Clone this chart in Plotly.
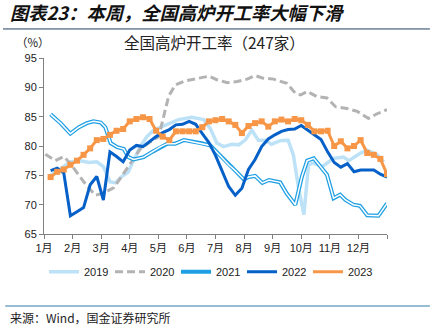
import plotly.graph_objects as go

months = ["1月", "2月", "3月", "4月", "5月", "6月", "7月", "8月", "9月", "10月", "11月", "12月"]

# x positions are week-of-year numbers (weekly data)
w2019 = [0.9, 2.5, 4.0, 5.5, 6.8, 8.0, 9.0, 10.0, 10.8, 11.8, 12.8, 13.6, 14.6, 15.6, 16.6, 17.7,
         20.4, 22.4, 24.2, 25.2, 26.2, 27.2, 28.5, 29.5, 30.5, 31.5, 32.5, 33.5, 34.5, 35.8, 37.0,
         37.8, 38.6, 39.4, 40.1, 40.8, 42.2, 43.9, 45.4, 46.2, 48.0, 49.0, 50.5, 51.5]
v2019 = [74.9, 76.2, 77.3, 77.5, 77.2, 77.3, 76.5, 73.9, 73.7, 74.8, 75.6, 77.6, 79.9, 81.6, 82.7, 83.2,
         84.5, 84.9, 84.5, 83.0, 80.5, 79.9, 80.3, 80.2, 81.0, 82.7, 81.0, 81.0, 80.3, 80.9, 81.0,
         78.5, 72.8, 68.3, 76.8, 77.1, 76.5, 77.9, 78.1, 77.5, 78.8, 79.3, 78.5, 77.3]

w2020 = [0.2, 1.7, 3.0, 4.0, 5.3, 6.5, 7.8, 9.1, 10.6, 12.1, 13.1, 14.6, 16.1, 17.4, 18.2, 18.9,
         19.9, 21.4, 23.2, 25.0, 26.2, 27.8, 29.3, 30.8, 32.0, 33.1, 34.8, 36.8, 38.1, 38.9, 39.9,
         41.4, 42.9, 44.2, 45.9, 47.5, 49.2, 50.5, 52.0]
v2020 = [78.6, 77.5, 78.2, 77.0, 75.0, 73.2, 71.6, 72.0, 72.9, 75.4, 77.2, 79.5, 80.7, 81.6, 85.3, 88.5,
         90.4, 91.1, 91.5, 91.9, 91.3, 90.8, 91.0, 91.4, 92.0, 91.6, 91.4, 90.7, 89.0, 88.7, 89.3,
         88.4, 88.2, 86.7, 86.4, 85.9, 84.7, 85.5, 86.2]

w2021 = [1.0, 2.5, 4.0, 5.3, 6.5, 7.5, 8.6, 9.3, 10.1, 11.1, 12.1, 12.8, 13.6, 15.1, 16.4, 17.7,
         18.7, 19.9, 21.2, 23.7, 25.2, 26.5, 28.0, 29.0, 30.3, 31.0, 32.0, 33.1, 34.1, 35.8, 36.8,
         38.1, 39.1, 39.9, 40.9, 41.9, 42.9, 43.9, 44.9, 45.7, 46.9, 47.9, 49.0, 50.7, 52.0]
v2021 = [85.4, 83.9, 82.1, 83.2, 83.9, 84.2, 84.0, 83.2, 80.5, 79.8, 79.5, 78.1, 77.7, 78.1, 79.0, 79.9,
         80.4, 80.4, 81.0, 80.5, 80.1, 78.6, 76.8, 75.8, 74.3, 74.7, 74.9, 73.7, 74.2, 73.8, 71.9,
         70.0, 74.8, 77.5, 77.9, 76.5, 75.1, 71.1, 71.7, 70.8, 70.0, 69.8, 68.2, 68.1, 70.2]

w2022 = list(range(1, 53))
v2022 = [75.8, 76.2, 75.4, 68.1, 68.8, 69.5, 73.4, 74.8, 70.8, 79.0, 78.2, 77.3, 79.3, 80.1, 79.9, 80.8,
         81.6, 82.3, 82.8, 83.6, 83.7, 84.2, 83.7, 82.1, 80.6, 78.4, 75.9, 73.1, 71.6, 72.8, 76.0, 77.7,
         79.9, 81.2, 81.9, 82.5, 82.8, 82.9, 83.5, 82.7, 81.9, 81.1, 79.0, 77.2, 76.4, 77.0, 75.6, 75.9,
         75.9, 75.9, 75.2, 74.7]

w2023 = list(range(1, 53))
v2023 = [74.7, 75.6, 76.0, 76.8, 77.5, 78.5, 79.6, 81.0, 81.2, 81.9, 82.6, 82.9, 84.2, 84.6, 84.9, 84.6,
         82.6, 81.6, 81.0, 82.5, 82.5, 82.5, 82.5, 83.2, 84.2, 84.4, 84.6, 84.2, 83.6, 82.2, 83.4, 83.9,
         84.2, 83.3, 84.2, 84.5, 84.2, 84.6, 84.4, 83.6, 82.5, 82.5, 82.6, 80.0, 80.8, 79.6, 80.0, 81.0,
         78.8, 78.5, 77.8, 75.2]

C19, C20, C21, C22, C23 = "#BDE2F7", "#B3B3B3", "#1E9FE3", "#0560C8", "#F79646"

fig = go.Figure()
fig.add_trace(go.Scatter(x=w2019, y=v2019, mode="lines", name="2019",
                         line=dict(color=C19, width=3.5)))
fig.add_trace(go.Scatter(x=w2020, y=v2020, mode="lines", name="2020",
                         line=dict(color=C20, width=3, dash="8px,4px")))
fig.add_trace(go.Scatter(x=w2021, y=v2021, mode="lines", name="2021", legendgroup="2021",
                         line=dict(color=C21, width=4)))
fig.add_trace(go.Scatter(x=w2021, y=v2021, mode="lines", name="2021", legendgroup="2021",
                         showlegend=False, hoverinfo="skip",
                         line=dict(color="white", width=1.5)))
fig.add_trace(go.Scatter(x=w2022, y=v2022, mode="lines", name="2022",
                         line=dict(color=C22, width=3)))
fig.add_trace(go.Scatter(x=w2023, y=v2023, mode="lines", name="2023", legendgroup="2023",
                         line=dict(color=C23, width=3)))
fig.add_trace(go.Scatter(x=w2023, y=v2023, mode="markers", name="2023", legendgroup="2023",
                         showlegend=False, marker=dict(color=C23, size=6, symbol="square")))

tickvals = [i * 52 / 12 for i in range(13)]
ticktext = months + [""]

axis_font = dict(family="Liberation Sans, Noto Sans CJK SC", size=11, color="#222")
fig.update_xaxes(range=[0, 52], tickvals=tickvals, ticktext=ticktext, showgrid=False,
                 zeroline=False, showline=True, linecolor="#808080", linewidth=1,
                 ticks="outside", ticklen=4, tickcolor="#808080", tickfont=axis_font)
fig.update_yaxes(range=[65, 95], dtick=5, showgrid=False, zeroline=False, showline=True,
                 linecolor="#808080", linewidth=1, ticks="outside", ticklen=4,
                 tickcolor="#808080", tickfont=axis_font)

cjk = "Noto Sans CJK SC"
fig.update_layout(
    width=432, height=328,
    margin=dict(l=44, r=45, t=58, b=94),
    paper_bgcolor="white", plot_bgcolor="white",
    showlegend=True,
    legend=dict(orientation="h", x=0.0, xanchor="left", y=-0.214, yanchor="middle",
                font=dict(family="Liberation Sans", size=11, color="#222"),
                entrywidth=21, entrywidthmode="pixels", itemclick=False,
                bgcolor="rgba(0,0,0,0)"),
    annotations=[
        dict(text="<b><i>图表23：本周，全国高炉开工率大幅下滑</i></b>", xref="paper", yref="paper",
             x=-0.105, y=1.261, xanchor="left", yanchor="middle", showarrow=False,
             font=dict(family=cjk, size=18.3, color="#111")),
        dict(text="全国高炉开工率（247家）", xref="paper", yref="paper",
             x=0.4985, y=1.09, xanchor="center", yanchor="middle", showarrow=False,
             font=dict(family=cjk, size=15.5, color="#222")),
        dict(text="（%）", xref="paper", yref="paper",
             x=-0.032, y=1.09, xanchor="center", yanchor="middle", showarrow=False,
             font=dict(family=cjk, size=11.5, color="#222")),
        dict(text="来源：Wind，国金证券研究所", xref="paper", yref="paper",
             x=-0.105, y=-0.477, xanchor="left", yanchor="middle", showarrow=False,
             font=dict(family=cjk, size=12, color="#222")),
    ],
    shapes=[
        dict(type="line", xref="paper", yref="paper", x0=-0.1195, x1=1.125, y0=1.165, y1=1.165,
             line=dict(color="#1F3F5F", width=1)),
        dict(type="line", xref="paper", yref="paper", x0=-0.113, x1=1.125, y0=-0.409, y1=-0.409,
             line=dict(color="#2F7DA6", width=1.2)),
    ],
)

fig.write_html("out.html")
